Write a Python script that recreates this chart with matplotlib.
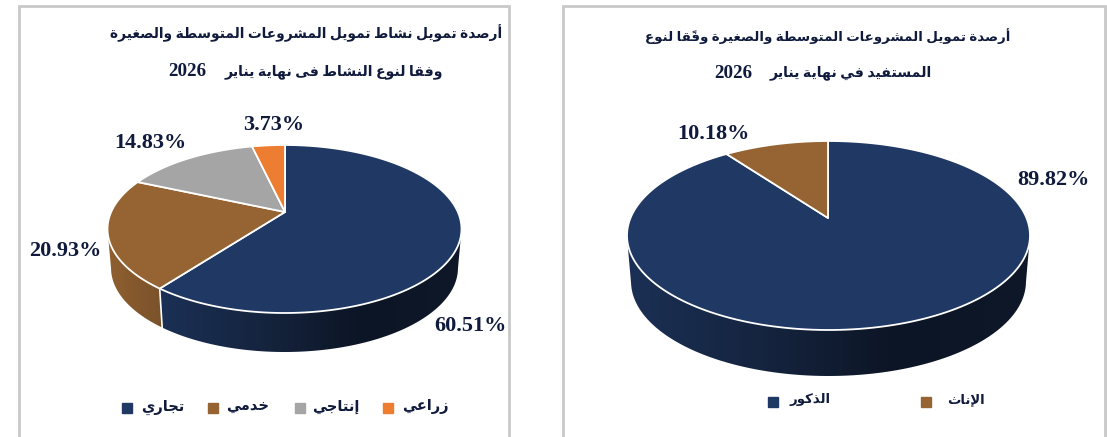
import numpy as np
import matplotlib
matplotlib.use("Agg")
import matplotlib.pyplot as plt
from matplotlib.colors import LinearSegmentedColormap
from matplotlib.patches import Polygon

# data
act_title = ["أرصدة تمويل نشاط تمويل المشروعات المتوسطة والصغيرة",
             "وفقا لنوع النشاط فى نهاية يناير"]
act_names = ["تجاري", "خدمي", "إنتاجي", "زراعي"]
act_values = [60.51, 20.93, 14.83, 3.73]

gen_title = ["أرصدة تمويل المشروعات المتوسطة والصغيرة وفقًا لنوع",
             "المستفيد في نهاية يناير"]
gen_names = ["الذكور", "الإناث"]
gen_values = [89.82, 10.18]
year = "2026"

NAVY = "#1f3864"
BROWN = "#966432"
GRAY = "#a5a5a5"
ORANGE = "#ed7d31"
TEXT_COL = "#0f1a3c"
AR_FONT = ["Liberation Serif", "DejaVu Sans"]

# matplotlib does no arabic shaping, so pick the presentation forms by hand
# letter, first code point, number of forms (isolated, final, initial, medial)
FORM_TABLE = [("ء", 0xFE80, 1), ("آ", 0xFE81, 2), ("أ", 0xFE83, 2), ("ؤ", 0xFE85, 2),
              ("إ", 0xFE87, 2), ("ئ", 0xFE89, 4), ("ا", 0xFE8D, 2), ("ب", 0xFE8F, 4),
              ("ة", 0xFE93, 2), ("ت", 0xFE95, 4), ("ث", 0xFE99, 4), ("ج", 0xFE9D, 4),
              ("ح", 0xFEA1, 4), ("خ", 0xFEA5, 4), ("د", 0xFEA9, 2), ("ذ", 0xFEAB, 2),
              ("ر", 0xFEAD, 2), ("ز", 0xFEAF, 2), ("س", 0xFEB1, 4), ("ش", 0xFEB5, 4),
              ("ص", 0xFEB9, 4), ("ض", 0xFEBD, 4), ("ط", 0xFEC1, 4), ("ظ", 0xFEC5, 4),
              ("ع", 0xFEC9, 4), ("غ", 0xFECD, 4), ("ف", 0xFED1, 4), ("ق", 0xFED5, 4),
              ("ك", 0xFED9, 4), ("ل", 0xFEDD, 4), ("م", 0xFEE1, 4), ("ن", 0xFEE5, 4),
              ("ه", 0xFEE9, 4), ("و", 0xFEED, 2), ("ى", 0xFEEF, 2), ("ي", 0xFEF1, 4)]
FORMS = {c: (start, n) for c, start, n in FORM_TABLE}
LAM_ALEF = {"آ": 0xFEF5, "أ": 0xFEF7, "إ": 0xFEF9, "ا": 0xFEFB}
MARKS = "\u064b\u064c\u064d\u064e\u064f\u0650\u0651\u0652"


def shape_word(word):
    # split into letters, each with the marks that sit on it
    letters = []
    for ch in word:
        if ch in MARKS and letters:
            letters[-1][1] += ch
        else:
            letters.append([ch, ""])
    out = []
    i = 0
    prev_joins = False
    while i < len(letters):
        ch, marks = letters[i]
        start, n = FORMS[ch]
        if ch == "ل" and i + 1 < len(letters) and letters[i + 1][0] in LAM_ALEF:
            out.append(chr(LAM_ALEF[letters[i + 1][0]] + (1 if prev_joins else 0)))
            prev_joins = False
            i += 2
            continue
        next_ok = i + 1 < len(letters) and n == 4
        if prev_joins and next_ok:
            form = 3
        elif prev_joins and n > 1:
            form = 1
        elif next_ok:
            form = 2
        else:
            form = 0
        out.append(chr(start + form) + marks)
        prev_joins = next_ok
        i += 1
    return "".join(reversed(out))


def ar(text):
    words = text.split(" ")
    res = []
    for w in reversed(words):
        if w and w[0] in FORMS:
            res.append(shape_word(w))
        else:
            res.append(w)
    return " ".join(res)


def rim_points(angles, apex, centre, rx, ry):
    # angles clockwise from 12 o'clock, ray from the apex out to the ellipse
    pts = []
    for a in angles:
        dx = np.sin(a) * rx
        dy = -np.cos(a) * ry
        ox = (apex[0] - centre[0]) / rx
        oy = (apex[1] - centre[1]) / ry
        px = dx / rx
        py = dy / ry
        qa = px ** 2 + py ** 2
        qb = 2 * (ox * px + oy * py)
        qc = ox ** 2 + oy ** 2 - 1
        t = (-qb + np.sqrt(qb ** 2 - 4 * qa * qc)) / (2 * qa)
        pts.append((apex[0] + t * dx, apex[1] + t * dy))
    return np.array(pts)


def draw_pie(ax, values, colors, apex, centre, rx, ry, depth, shades):
    edges = np.cumsum([0] + list(values)) / sum(values) * 2 * np.pi
    rims = []
    for i in range(len(values)):
        angles = np.linspace(edges[i], edges[i + 1], 200)
        rims.append(rim_points(angles, apex, centre, rx, ry))

    # side wall first, only the part facing the viewer
    for rim, shade in zip(rims, shades):
        front = rim[rim[:, 1] >= centre[1]]
        if shade is None or len(front) < 2:
            continue
        low = front.copy()
        low[:, 0] = centre[0] + (low[:, 0] - centre[0]) * 0.98
        low[:, 1] += depth
        wall = np.vstack([front, low[::-1]])
        cmap = LinearSegmentedColormap.from_list("wall", shade)
        x0, x1 = wall[:, 0].min(), wall[:, 0].max()
        y0, y1 = wall[:, 1].min(), wall[:, 1].max()
        im = ax.imshow(np.linspace(0, 1, 256).reshape(1, -1), cmap=cmap,
                       extent=[x0, x1, y1, y0], aspect="auto", zorder=2)
        clip = Polygon(wall, closed=True, transform=ax.transData, fc="none", ec="none")
        ax.add_patch(clip)
        im.set_clip_path(clip)

    # white seam on the wall between two front slices
    for rim, shade in zip(rims, shades):
        if shade is not None and rim[-1, 1] >= centre[1]:
            x, y = rim[-1]
            ax.plot([x, centre[0] + (x - centre[0]) * 0.98], [y, y + depth],
                    color="white", lw=1.2, zorder=3)

    for rim, col in zip(rims, colors):
        ax.add_patch(Polygon(np.vstack([[apex], rim]), closed=True, fc=col,
                             ec="white", lw=1.3, joinstyle="round", zorder=4))


fig = plt.figure(figsize=(11.07, 4.37), dpi=100, facecolor="white")
ax = fig.add_axes([0, 0, 1, 1])

# panel borders
for x0, x1 in [(19, 509), (563, 1105)]:
    ax.plot([x0, x0, x1, x1], [437, 6, 6, 437], color="#c9c9c9", lw=2,
            solid_joinstyle="miter", zorder=1)

draw_pie(ax, act_values, [NAVY, BROWN, GRAY, ORANGE], (285, 212), (284.5, 229), 177, 84, 39,
         [["#1b3055", "#15243f", "#0c1525", "#0e1828"], ["#8f5f30", "#7a522a"], None, None])
draw_pie(ax, gen_values, [NAVY, BROWN], (828, 218), (828.5, 235.5), 201.5, 94.5, 46,
         [["#1b3055", "#15243f", "#0c1525", "#0e1828"], None])

# titles, the year is set larger in a serif face on the left of line two
for lines, x_right, y1, size, y2, x_year, x_ar in [(act_title, 502, 33, 9.9, 72, 168, 443),
                                                   (gen_title, 1010, 36, 9.6, 73, 714, 932)]:
    ax.text(x_right, y1, ar(lines[0]), family=AR_FONT, weight="bold", fontsize=size,
            color=TEXT_COL, ha="right", va="center", zorder=6)
    ax.text(x_ar, y2, ar(lines[1]), family=AR_FONT, weight="bold", fontsize=10.2,
            color=TEXT_COL, ha="right", va="center", zorder=6)
    ax.text(x_year, y2, year, family="Liberation Serif", weight="bold", fontsize=13.7,
            color=TEXT_COL, ha="left", va="center", zorder=6)

# data labels
label_pos = [(470, 326), (65, 251), (150, 143), (274, 125)]
for v, (x, y) in zip(act_values, label_pos):
    ax.text(x, y, f"{v:.2f}%", family="Liberation Serif", weight="bold", fontsize=16,
            color=TEXT_COL, ha="center", va="center", zorder=6)
label_pos = [(1053, 180), (713, 134)]
for v, (x, y) in zip(gen_values, label_pos):
    ax.text(x, y, f"{v:.2f}%", family="Liberation Serif", weight="bold", fontsize=16,
            color=TEXT_COL, ha="center", va="center", zorder=6)

# legends
for name, col, mx, tx in zip(act_names, [NAVY, BROWN, GRAY, ORANGE],
                             [127, 213, 300, 388], [163, 248, 336, 425]):
    ax.plot([mx], [408], "s", color=col, ms=7, zorder=6)
    ax.text(tx, 407, ar(name), family=AR_FONT, weight="bold", fontsize=10.5,
            color=TEXT_COL, ha="center", va="center", zorder=6)
for name, col, mx, tx in zip(gen_names, [NAVY, BROWN], [773, 926], [810, 966]):
    ax.plot([mx], [402], "s", color=col, ms=7, zorder=6)
    ax.text(tx, 400, ar(name), family=AR_FONT, weight="bold", fontsize=9.5,
            color=TEXT_COL, ha="center", va="center", zorder=6)

ax.set_xlim(0, 1107)
ax.set_ylim(437, 0)
ax.axis("off")
fig.savefig("out.png", dpi=100, facecolor="white")
